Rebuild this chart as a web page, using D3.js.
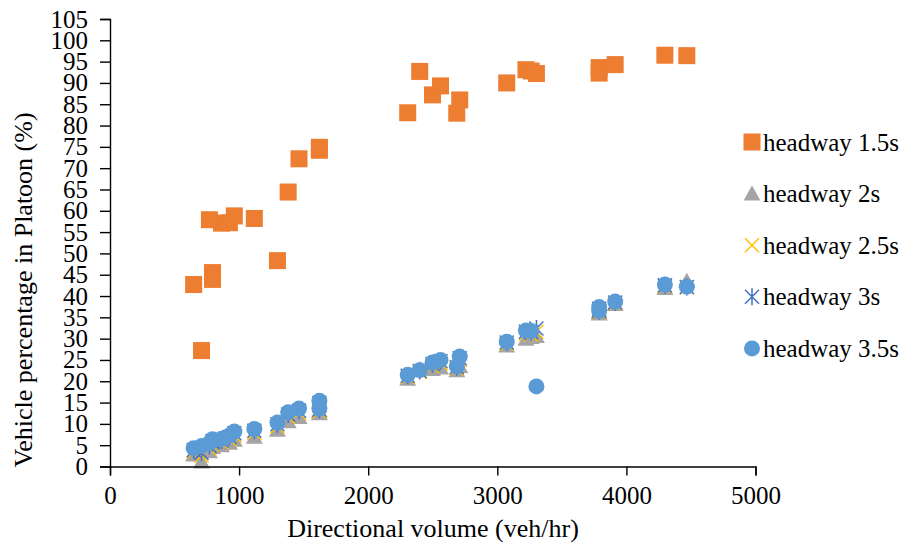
<!DOCTYPE html>
<html>
<head>
<meta charset="utf-8">
<script src="https://cdn.jsdelivr.net/npm/d3@7"></script>
<style>
  html, body { margin: 0; padding: 0; background: #fff; }
  svg { display: block; }
  text { font-family: "Liberation Serif", "Times New Roman", serif; fill: #000; }
</style>
</head>
<body>
<svg id="chart" width="913" height="551"></svg>
<script>
// Directional volume (veh/hr) for each observation
const volume = [648, 709, 770, 794, 794, 864, 925, 963, 1118, 1297, 1380, 1464, 1622, 1622,
  2306, 2399, 2498, 2560, 2686, 2709, 3073, 3222, 3262, 3303, 3789, 3789, 3913, 4298, 4468];

// Vehicle percentage in platoon (%) by headway threshold
const headway15 = [42.7, 27.2, 57.9, 45.5, 43.9, 57.1, 57.2, 58.8, 58.2, 48.3, 64.4, 72.2, 74.2, 74.9,
  83.0, 92.7, 87.2, 89.3, 82.9, 86.0, 90.0, 93.1, 92.8, 92.2, 93.6, 92.3, 94.3, 96.5, 96.4];
const headway2 = [2.8, 1.2, 3.6, 4.6, 4.9, 5.0, 5.6, 6.3, 7.0, 8.6, 10.6, 11.6, 12.5, 13.0,
  20.6, 22.9, 22.9, 23.2, 22.6, 23.6, 28.4, 30.0, 30.4, 30.6, 35.9, 36.3, 38.1, 41.9, 43.6];
const headway25 = [3.4, 2.6, 4.3, 5.4, 5.3, 5.7, 6.4, 7.3, 7.9, 9.4, 11.6, 12.6, 14.3, 13.0,
  21.0, 22.2, 23.6, 24.2, 23.0, 25.0, 28.8, 31.2, 31.0, 31.6, 36.6, 36.3, 38.3, 42.3, 42.0];
const headway3 = [3.8, 3.2, 4.8, 5.9, 5.6, 6.1, 6.9, 7.8, 8.4, 9.9, 12.2, 13.1, 14.9, 13.3,
  21.3, 22.4, 24.0, 24.7, 23.3, 25.4, 29.1, 31.6, 31.5, 32.4, 37.0, 36.5, 38.5, 42.5, 42.1];
const headway35 = [4.3, 4.8, 5.5, 6.4, 6.0, 6.5, 7.3, 8.2, 8.8, 10.3, 12.7, 13.6, 15.4, 13.6,
  21.5, 22.6, 24.4, 25.0, 23.5, 25.8, 29.3, 31.9, 31.8, 18.8, 37.4, 36.6, 38.7, 42.7, 42.2];

const seriesNames = ["headway 1.5s", "headway 2s", "headway 2.5s", "headway 3s", "headway 3.5s"];
const seriesValues = [headway15, headway2, headway25, headway3, headway35];
const seriesColors = ["#ED7D31", "#A5A5A5", "#FFC000", "#4472C4", "#5B9BD5"];
const seriesShapes = ["square", "triangle", "cross", "star", "circle"];

const xTicks = [0, 1000, 2000, 3000, 4000, 5000];
const yTicks = d3.range(0, 106, 5);

const svg = d3.select("#chart");

const x = d3.scaleLinear().domain([0, 5000]).range([110, 755.5]);
const y = d3.scaleLinear().domain([0, 105]).range([466.5, 19]);

// Marker outlines, drawn around the origin
function marker(sel, shape, color) {
  if (shape === "square") {
    sel.append("rect").attr("x", -8.5).attr("y", -8.5).attr("width", 17).attr("height", 17)
      .attr("fill", color);
  } else if (shape === "circle") {
    sel.append("circle").attr("r", 8).attr("fill", color);
  } else if (shape === "triangle") {
    sel.append("path").attr("d", "M0,-8L8.5,7L-8.5,7Z").attr("fill", color);
  } else if (shape === "cross") {
    sel.append("path").attr("d", "M-7,-7L7,7M-7,7L7,-7")
      .attr("stroke", color).attr("stroke-width", 1.5).attr("fill", "none");
  } else if (shape === "star") {
    sel.append("path").attr("d", "M-7,-7L7,7M-7,7L7,-7M0,-8.5L0,8.5")
      .attr("stroke", color).attr("stroke-width", 1.5).attr("fill", "none");
  }
}

// Data points, one layer per series
seriesValues.forEach((vals, si) => {
  const g = svg.append("g").attr("class", "series");
  const pts = g.selectAll("g.pt").data(vals.map((v, i) => ({ x: volume[i], y: v })))
    .join("g").attr("class", "pt")
    .attr("transform", d => `translate(${x(d.x)},${y(d.y)})`);
  pts.each(function () { marker(d3.select(this), seriesShapes[si], seriesColors[si]); });
});

// Axes
const xAxis = d3.axisBottom(x).tickValues(xTicks).tickSize(9).tickPadding(11).tickFormat(d3.format("d"));
const yAxis = d3.axisLeft(y).tickValues(yTicks).tickSize(10).tickPadding(12).tickFormat(d3.format("d"));

const gx = svg.append("g").attr("transform", `translate(0,${y(0)})`).call(xAxis);
const gy = svg.append("g").attr("transform", `translate(${x(0)},0)`).call(yAxis);

[gx, gy].forEach(g => {
  g.select(".domain").attr("stroke", "#000").attr("stroke-width", 1.4);
  g.selectAll(".tick line").attr("stroke", "#000").attr("stroke-width", 1.4);
  g.selectAll(".tick text").attr("font-family", "Liberation Serif, Times New Roman, serif")
    .attr("fill", "#000").attr("font-size", 25);
});

// Axis titles
svg.append("text")
  .attr("x", 433).attr("y", 537)
  .attr("text-anchor", "middle").attr("font-size", 26)
  .text("Directional volume (veh/hr)");

svg.append("text")
  .attr("transform", "translate(32,290) rotate(-90)")
  .attr("text-anchor", "middle").attr("font-size", 26)
  .text("Vehicle percentage in Platoon (%)");

// Legend
const legend = svg.append("g");
seriesNames.forEach((name, i) => {
  const ly = 142 + i * 51.6;
  const item = legend.append("g").attr("transform", `translate(752,${ly})`);
  marker(item, seriesShapes[i], seriesColors[i]);
  legend.append("text").attr("x", 763).attr("y", ly + 8.5)
    .attr("font-size", 25).text(name);
});
</script>
</body>
</html>
